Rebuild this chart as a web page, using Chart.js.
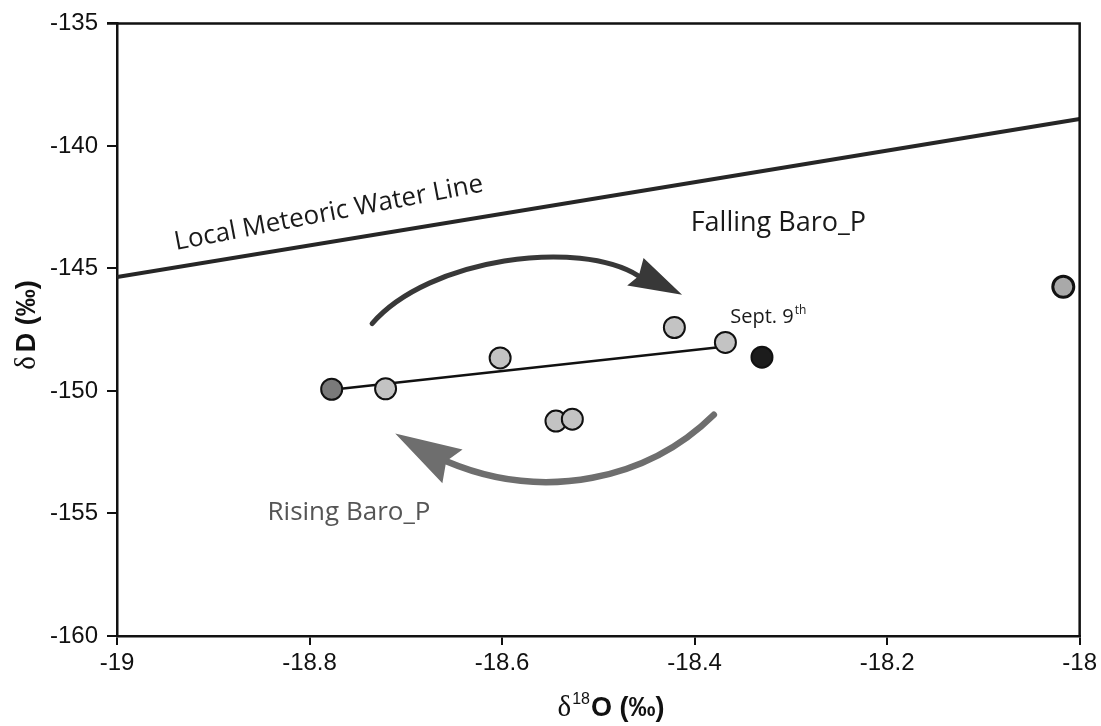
<!DOCTYPE html>
<html>
<head>
<meta charset="utf-8">
<script src="https://cdn.jsdelivr.net/npm/chart.js@4.4.1/dist/chart.umd.min.js"></script>
<style>
    html, body { margin: 0; padding: 0; background: #fff; }
    #chart { display: block; }
</style>
</head>
<body>
<canvas id="chart" width="1101" height="726"></canvas>
<script>
// Isotope samples (delta 18O vs delta D, permil)
const sampleO18 = [-18.777, -18.721, -18.602, -18.544, -18.527, -18.421, -18.368, -18.330, -18.017];
const sampleD   = [-149.93, -149.91, -148.65, -151.23, -151.15, -147.41, -148.02, -148.62, -145.75];

// Local meteoric water line end points
const lmwlO18 = [-19, -18];
const lmwlD   = [-145.35, -138.9];

// Trend line through the falling-pressure samples
const trendO18 = [-18.777, -18.37];
const trendD   = [-149.95, -148.2];

// Axis ticks
const xTicks = [-19, -18.8, -18.6, -18.4, -18.2, -18];
const yTicks = [-160, -155, -150, -145, -140, -135];

// Arrow paths in data units: start, control 1, control 2, end(notch), then head tip / wings
const fallingArrow = {
    curve: [[-18.735, -147.25], [-18.676, -144.57], [-18.520, -143.77], [-18.458, -145.31]],
    head: [[-18.413, -146.07], [-18.453, -144.57], [-18.458, -145.31], [-18.470, -145.70]]
};
const risingArrow = {
    curve: [[-18.380, -150.97], [-18.448, -153.60], [-18.556, -154.57], [-18.658, -152.87]],
    head: [[-18.711, -151.74], [-18.641, -152.39], [-18.658, -152.87], [-18.662, -153.77]]
};

// Point fills (dark = first sample, black = Sept. 9th)
const sampleFills = ['#7a7a7a', '#c3c3c3', '#c3c3c3', '#c3c3c3', '#c3c3c3', '#c3c3c3', '#c3c3c3', '#1c1c1c', '#a9a9a9'];

const sansFont = '"Liberation Sans", Arial, sans-serif';
const labelFont = '"Open Sans", "Noto Sans", sans-serif';

function toPoints(xs, ys) {
    return xs.map((x, i) => ({ x: x, y: ys[i] }));
}

// Box, arrows and text labels
const decorPlugin = {
    id: 'decor',
    afterDatasetsDraw(chart) {
        const ctx = chart.ctx;
        const xs = chart.scales.x;
        const ys = chart.scales.y;
        const px = (p) => [xs.getPixelForValue(p[0]), ys.getPixelForValue(p[1])];
        const area = chart.chartArea;

        // top and right border
        ctx.save();
        ctx.strokeStyle = '#111';
        ctx.lineWidth = 2.5;
        ctx.beginPath();
        ctx.moveTo(area.left - 10, area.top);
        ctx.lineTo(area.right, area.top);
        ctx.lineTo(area.right, area.bottom);
        ctx.stroke();
        ctx.restore();

        function drawArrow(arrow, color, width) {
            const c = arrow.curve.map(px);
            ctx.save();
            ctx.strokeStyle = color;
            ctx.fillStyle = color;
            ctx.lineWidth = width;
            ctx.lineCap = 'round';
            ctx.beginPath();
            ctx.moveTo(c[0][0], c[0][1]);
            ctx.bezierCurveTo(c[1][0], c[1][1], c[2][0], c[2][1], c[3][0], c[3][1]);
            ctx.stroke();
            const h = arrow.head.map(px);
            ctx.beginPath();
            ctx.moveTo(h[0][0], h[0][1]);
            ctx.lineTo(h[1][0], h[1][1]);
            ctx.lineTo(h[2][0], h[2][1]);
            ctx.lineTo(h[3][0], h[3][1]);
            ctx.closePath();
            ctx.fill();
            ctx.restore();
        }
        drawArrow(fallingArrow, '#383838', 5);
        drawArrow(risingArrow, '#6e6e6e', 6.5);

        ctx.save();
        ctx.fillStyle = '#1a1a1a';
        ctx.font = '26px ' + labelFont;
        ctx.textBaseline = 'middle';
        ctx.textAlign = 'center';

        // LMWL label, rotated along the line
        let p = px([-18.78, -142.75]);
        ctx.save();
        ctx.translate(p[0], p[1]);
        ctx.rotate(-10.8 * Math.PI / 180);
        ctx.fillText('Local Meteoric Water Line', 0, 0);
        ctx.restore();

        ctx.font = '27px ' + labelFont;
        p = px([-18.313, -143.16]);
        ctx.fillText('Falling Baro_P', p[0], p[1]);

        ctx.font = '26px ' + labelFont;
        ctx.fillStyle = '#555';
        p = px([-18.759, -154.98]);
        ctx.fillText('Rising Baro_P', p[0], p[1]);

        // Sept. 9th label
        ctx.fillStyle = '#1a1a1a';
        ctx.textAlign = 'left';
        ctx.textBaseline = 'alphabetic';
        p = px([-18.363, -147.21]);
        ctx.font = '20px ' + labelFont;
        ctx.fillText('Sept. 9', p[0], p[1]);
        const w = ctx.measureText('Sept. 9').width;
        ctx.font = '12px ' + labelFont;
        ctx.fillText('th', p[0] + w + 1, p[1] - 9);
        ctx.restore();

        // axis titles
        ctx.save();
        ctx.fillStyle = '#111';
        ctx.textBaseline = 'alphabetic';
        ctx.textAlign = 'left';
        const serif = '29px "Liberation Serif", "DejaVu Serif", serif';
        const bold = 'bold 27px ' + sansFont;
        const small = '16px ' + sansFont;

        // x title: delta 18O (permil)
        ctx.font = serif;
        const wd = ctx.measureText('\u03b4').width;
        ctx.font = small;
        const w18 = ctx.measureText('18').width;
        ctx.font = bold;
        const wo = ctx.measureText('O (\u2030)').width;
        let total = wd + w18 + 2 + wo;
        let x0 = 611 - total / 2;
        const yb = 716;
        ctx.font = serif;
        ctx.fillText('\u03b4', x0, yb);
        ctx.font = small;
        ctx.fillText('18', x0 + wd + 1, yb - 12);
        ctx.font = bold;
        ctx.fillText('O (\u2030)', x0 + wd + w18 + 2, yb);

        // y title: delta D (permil), rotated
        ctx.translate(35, 325);
        ctx.rotate(-Math.PI / 2);
        ctx.font = serif;
        const wd2 = ctx.measureText('\u03b4').width;
        ctx.font = bold;
        const wD = ctx.measureText('D (\u2030)').width;
        total = wd2 + 4 + wD;
        x0 = -total / 2;
        ctx.font = serif;
        ctx.fillText('\u03b4', x0, 0);
        ctx.font = bold;
        ctx.fillText('D (\u2030)', x0 + wd2 + 4, 0);
        ctx.restore();
    }
};

const tickFont = { family: sansFont, size: 24 };

new Chart(document.getElementById('chart'), {
    type: 'scatter',
    data: {
        datasets: [
            {
                label: 'Samples',
                data: toPoints(sampleO18, sampleD),
                pointRadius: 10.5,
                pointBackgroundColor: sampleFills,
                pointBorderColor: '#111',
                pointBorderWidth: sampleFills.map((c, i) => (i === sampleFills.length - 1 ? 3 : 2)),
                order: 0
            },
            {
                label: 'Trend',
                data: toPoints(trendO18, trendD),
                showLine: true,
                borderColor: '#111',
                borderWidth: 2.5,
                pointRadius: 0,
                order: 1
            },
            {
                label: 'LMWL',
                data: toPoints(lmwlO18, lmwlD),
                showLine: true,
                borderColor: '#262626',
                borderWidth: 4,
                pointRadius: 0,
                order: 2
            }
        ]
    },
    options: {
        responsive: false,
        animation: false,
        devicePixelRatio: 1,
        layout: { padding: { top: 18, right: 19, left: 0, bottom: 0 } },
        plugins: {
            legend: { display: false },
            tooltip: { enabled: false }
        },
        scales: {
            x: {
                type: 'linear',
                min: -19,
                max: -18,
                afterBuildTicks: (scale) => { scale.ticks = xTicks.map(v => ({ value: v })); },
                afterFit: (scale) => { scale.height = 90; },
                ticks: {
                    font: tickFont,
                    color: '#111',
                    padding: 4,
                    maxRotation: 0,
                    callback: (v) => String(Number(v.toFixed(1)))
                },
                grid: { drawOnChartArea: false, drawTicks: true, tickLength: 9, color: '#111', lineWidth: 2 },
                border: { color: '#111', width: 2.5 }
            },
            y: {
                type: 'linear',
                min: -160,
                max: -135,
                afterBuildTicks: (scale) => { scale.ticks = yTicks.map(v => ({ value: v })); },
                afterFit: (scale) => { scale.width = 117; },
                ticks: {
                    font: tickFont,
                    color: '#111',
                    padding: 9
                },
                grid: { drawOnChartArea: false, drawTicks: true, tickLength: 10, color: '#111', lineWidth: 2 },
                border: { color: '#111', width: 2.5 }
            }
        }
    },
    plugins: [decorPlugin]
});
</script>
</body>
</html>
